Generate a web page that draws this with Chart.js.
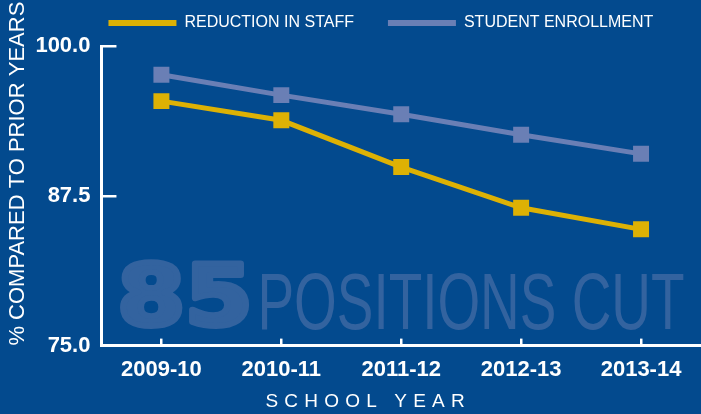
<!DOCTYPE html>
<html>
<head>
<meta charset="utf-8">
<script src="https://cdn.jsdelivr.net/npm/chart.js@4/dist/chart.umd.min.js"></script>
<style>
    html, body { margin: 0; padding: 0; background: #034a8e; }
    #wrap { width: 701px; height: 414px; position: relative; }
</style>
</head>
<body>
<div id="wrap"><canvas id="chart"></canvas></div>
<script>
    'use strict';

    // data
    var schoolYears = ['2009-10', '2010-11', '2011-12', '2012-13', '2013-14'];
    var staffReduction = [95.4, 93.8, 89.9, 86.5, 84.7];
    var studentEnrollment = [97.6, 95.9, 94.3, 92.6, 91.0];
    var yTicks = [75, 87.5, 100];
    var xTitle = 'SCHOOL YEAR';
    var watermarkNumber = '85';
    var watermarkText = 'POSITIONS CUT';

    var YELLOW = '#ddb104';
    var SLATE = '#6a7fb5';
    var WHITE = '#ffffff';
    var GHOST = '#33639f';
    var FONT = '"Liberation Sans", Arial, sans-serif';

    /**
     * Big pale "85 POSITIONS CUT" behind the lines
     */
    var watermark = {
        id: 'watermark',
        beforeDatasetsDraw: function (chart) {
            var ctx = chart.ctx;
            var area = chart.chartArea;
            var w;
            ctx.save();
            ctx.fillStyle = GHOST;
            ctx.strokeStyle = GHOST;
            ctx.textBaseline = 'alphabetic';

            ctx.save();
            ctx.font = 'bold 100px "DejaVu Sans"';
            w = ctx.measureText(watermarkNumber).width;
            ctx.translate(area.left + 16, area.bottom - 20.5);
            ctx.scale(135 / w, 0.84);
            ctx.lineWidth = 7;
            ctx.lineJoin = 'round';
            ctx.fillText(watermarkNumber, 0, 0);
            ctx.strokeText(watermarkNumber, 0, 0);
            ctx.restore();

            ctx.save();
            ctx.font = '80px "Liberation Sans"';
            w = ctx.measureText(watermarkText).width;
            ctx.translate(area.left + 156, area.bottom - 17);
            ctx.scale(427 / w, 1);
            ctx.fillText(watermarkText, 0, 0);
            ctx.restore();

            ctx.restore();
        }
    };

    /**
     * Letter-spaced x axis title, sitting left of centre like the print
     */
    var xAxisTitle = {
        id: 'xAxisTitle',
        afterDraw: function (chart) {
            var ctx = chart.ctx;
            var area = chart.chartArea;
            ctx.save();
            ctx.font = '19px ' + FONT;
            ctx.letterSpacing = '6.2px';
            ctx.fillStyle = WHITE;
            ctx.textAlign = 'left';
            ctx.textBaseline = 'middle';
            ctx.fillText(xTitle, area.left + 164, chart.height - 12);
            ctx.restore();
        }
    };

    /**
     * Moves the legend to the upper left, as in the print layout
     */
    var legendShift = {
        id: 'legendShift',
        afterLayout: function (chart) {
            var lg = chart.legend;
            var dx = chart.chartArea.left + 7 - lg.options.labels.padding - lg.left;
            lg.left += dx;
            lg.right += dx;
            lg.top -= 39;
        }
    };

    var config = {
        type: 'line',
        data: {
            labels: schoolYears,
            datasets: [{
                label: 'REDUCTION IN STAFF',
                data: staffReduction,
                borderColor: YELLOW,
                backgroundColor: YELLOW,
                borderWidth: 5,
                pointStyle: 'rect',
                pointRadius: 11.3,
                pointBorderWidth: 0,
                pointBackgroundColor: YELLOW,
                tension: 0,
                fill: false
            }, {
                label: 'STUDENT ENROLLMENT',
                data: studentEnrollment,
                borderColor: SLATE,
                backgroundColor: SLATE,
                borderWidth: 5,
                pointStyle: 'rect',
                pointRadius: 11.3,
                pointBorderWidth: 0,
                pointBackgroundColor: SLATE,
                tension: 0,
                fill: false
            }]
        },
        options: {
            responsive: true,
            maintainAspectRatio: false,
            animation: false,
            layout: { autoPadding: false, padding: { top: 20, left: 0, right: 0, bottom: 13 } },
            plugins: {
                tooltip: { enabled: false },
                legend: {
                    position: 'top',
                    align: 'start',
                    maxHeight: 26,
                    labels: {
                        color: WHITE,
                        font: { family: FONT, size: 16 },
                        boxWidth: 68,
                        boxHeight: 6,
                        padding: 34,
                        generateLabels: function (chart) {
                            var items = Chart.defaults.plugins.legend.labels.generateLabels(chart);
                            items.forEach(function (it) { it.lineWidth = 0; });
                            return items;
                        }
                    }
                }
            },
            scales: {
                x: {
                    type: 'category',
                    offset: true,
                    afterFit: function (scale) {
                        scale.paddingLeft = 0;
                        scale.paddingRight = 0;
                    },
                    grid: {
                        drawOnChartArea: false,
                        offset: false,
                        color: WHITE,
                        lineWidth: 2.5,
                        tickLength: -7
                    },
                    border: { color: WHITE, width: 3 },
                    ticks: {
                        color: WHITE,
                        padding: 18,
                        maxRotation: 0,
                        font: { family: FONT, size: 22, weight: 'bold' }
                    }
                },
                y: {
                    min: 75,
                    max: 100,
                    afterBuildTicks: function (scale) {
                        scale.ticks = yTicks.map(function (v) { return { value: v }; });
                    },
                    grid: {
                        drawOnChartArea: false,
                        color: WHITE,
                        lineWidth: 2.5,
                        tickLength: -15
                    },
                    border: { color: WHITE, width: 3 },
                    ticks: {
                        color: WHITE,
                        padding: 26,
                        font: { family: FONT, size: 22, weight: 'bold' },
                        callback: function (v) { return Number(v).toFixed(1); }
                    },
                    title: {
                        display: true,
                        text: '% COMPARED TO PRIOR YEARS',
                        align: 'start',
                        color: WHITE,
                        font: { family: FONT, size: 22 },
                        padding: { top: 5, bottom: -22 }
                    }
                }
            }
        },
        plugins: [watermark, xAxisTitle, legendShift]
    };

    new Chart(document.getElementById('chart').getContext('2d'), config);
</script>
</body>
</html>
